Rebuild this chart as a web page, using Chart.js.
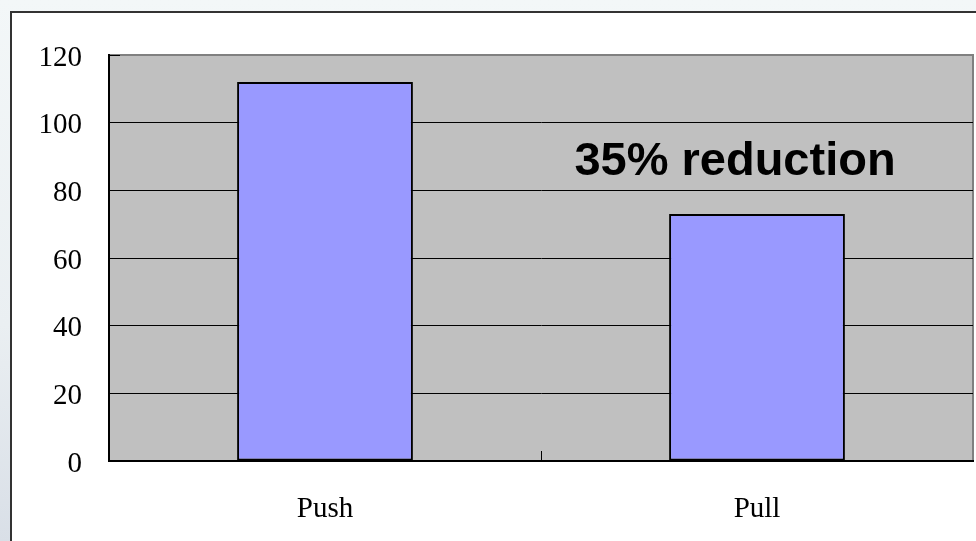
<!DOCTYPE html>
<html>
<head>
<meta charset="utf-8">
<script src="https://cdn.jsdelivr.net/npm/chart.js@4"></script>
<style>
    html, body { margin: 0; padding: 0; }
    body {
        width: 976px; height: 541px; overflow: hidden; position: relative;
        background: linear-gradient(to bottom, #f3f7f8 0%, #eaeff2 60%, #d9dfe7 100%);
    }
    .frame {
        position: absolute; left: 10px; top: 11px; width: 1000px; height: 600px;
        border: 2px solid #333; background: #fff;
    }
    #chart { position: absolute; left: 0; top: 0; }
</style>
</head>
<body>
<div class="frame"></div>
<canvas id="chart" width="976" height="541"></canvas>
<script>
const categories = ['Push', 'Pull'];
const values = [112, 73];
const yTicks = [0, 20, 40, 60, 80, 100, 120];
const note = '35% reduction';

const labelFont = { family: "'Liberation Serif', 'DejaVu Serif', serif", size: 29 };

// plot background, gray frame, inside tick marks and the note
const plotDecor = {
    id: 'plotDecor',
    beforeDraw(chart) {
        const { ctx, chartArea: a } = chart;
        ctx.save();
        ctx.fillStyle = '#c0c0c0';
        ctx.fillRect(a.left, a.top, a.right - a.left, a.bottom - a.top);
        ctx.strokeStyle = '#808080';
        ctx.lineWidth = 2;
        ctx.beginPath();
        ctx.moveTo(a.left, a.top);
        ctx.lineTo(a.right, a.top);
        ctx.lineTo(a.right, a.bottom);
        ctx.stroke();
        ctx.restore();
    },
    afterDraw(chart) {
        const { ctx, chartArea: a, scales } = chart;
        ctx.save();
        ctx.strokeStyle = '#000';
        ctx.lineWidth = 1;
        // short tick at the top value
        const yTop = scales.y.getPixelForValue(yTicks[yTicks.length - 1]);
        ctx.beginPath();
        ctx.moveTo(a.left, yTop + 0.5);
        ctx.lineTo(a.left + 11, yTop + 0.5);
        ctx.stroke();
        // ticks between categories
        for (let i = 0; i < categories.length - 1; i++) {
            const x = Math.round((scales.x.getPixelForValue(i) + scales.x.getPixelForValue(i + 1)) / 2) + 0.5;
            ctx.beginPath();
            ctx.moveTo(x, a.bottom);
            ctx.lineTo(x, a.bottom - 10);
            ctx.stroke();
        }
        // annotation text
        ctx.fillStyle = '#000';
        ctx.font = "bold 47px 'Liberation Sans', Arial, sans-serif";
        ctx.textAlign = 'center';
        ctx.textBaseline = 'alphabetic';
        const tx = scales.x.getPixelForValue(1) - 22;
        const ty = scales.y.getPixelForValue(84.5);
        ctx.fillText(note, tx, ty);
        ctx.restore();
    }
};

new Chart(document.getElementById('chart'), {
    type: 'bar',
    data: {
        labels: categories,
        datasets: [{
            data: values,
            backgroundColor: '#9999ff',
            borderColor: '#000',
            borderWidth: 2,
            borderSkipped: false,
            categoryPercentage: 1,
            barPercentage: 0.407
        }]
    },
    options: {
        responsive: false,
        animation: false,
        devicePixelRatio: 1,
        layout: { padding: { top: 55, right: 3, left: 0, bottom: 0 } },
        plugins: { legend: { display: false }, tooltip: { enabled: false } },
        scales: {
            x: {
                grid: { display: false, drawTicks: false },
                border: { display: true, color: '#000', width: 2 },
                ticks: { color: '#000', font: labelFont, padding: 31 },
                afterFit: s => { s.height = 80; }
            },
            y: {
                min: 0,
                max: 120,
                afterBuildTicks: s => { s.ticks = yTicks.map(v => ({ value: v })); },
                grid: {
                    drawTicks: false,
                    color: c => (c.tick.value === 0 || c.tick.value === 120) ? 'rgba(0,0,0,0)' : '#000',
                    lineWidth: 1
                },
                border: { display: true, color: '#000', width: 2 },
                ticks: { color: '#000', font: labelFont, padding: 27, labelOffset: 3 },
                afterFit: s => { s.width = 109; }
            }
        }
    },
    plugins: [plotDecor]
});
</script>
</body>
</html>
